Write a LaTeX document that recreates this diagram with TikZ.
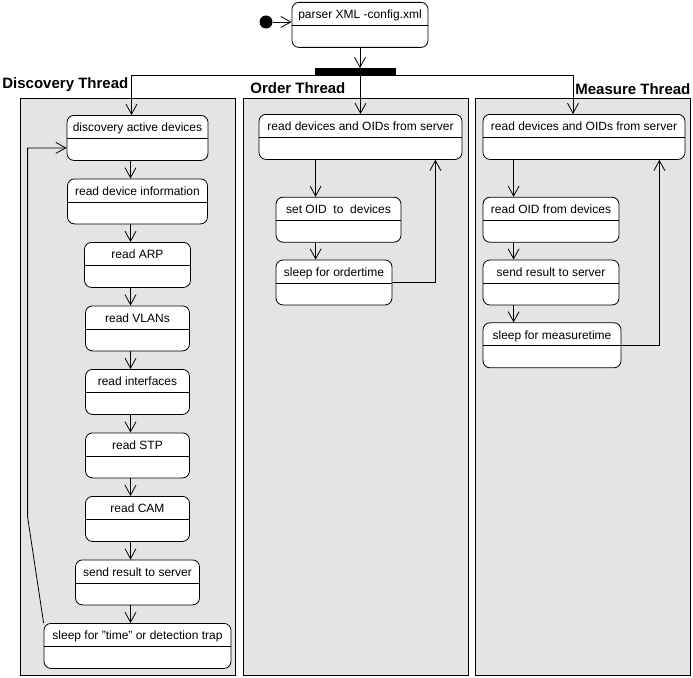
\documentclass[tikz,border=0pt]{standalone}
\usepackage{fontspec}
\setmainfont{Liberation Sans}
\usepackage{xcolor}
\definecolor{lanegrey}{HTML}{E4E4E4}
\usetikzlibrary{positioning, arrows.meta}

\begin{document}
\begin{tikzpicture}[x=1pt, y=1pt, line width=0.8pt, font=\fontsize{12}{14}\selectfont,
    node distance=17.7pt,
    activity/.style={draw, fill=white, rounded corners=7pt, minimum height=45pt, inner xsep=3pt, inner ysep=5.5pt,
        text height=11pt, text depth=23pt, align=center,
        path picture={\draw ([yshift=-23pt]path picture bounding box.north west) -- ([yshift=-23pt]path picture bounding box.north east);}},
    lane/.style={draw, fill=lanegrey, anchor=north west, minimum width=#1, minimum height=577pt, inner sep=0pt},
    lanelabel/.style={font=\fontsize{15}{18}\selectfont\bfseries, inner sep=0pt},
    flow/.style={-{Straight Barb[length=10pt, width=11pt]}}]
        \useasboundingbox (0,0) rectangle (693,-677);

        % Start and fork
        \node[circle, fill=black, minimum size=13pt, inner sep=0pt] (start) at (266,-22) {};
        \node[activity, minimum width=136pt, anchor=north] (parser) at (360,-2) {parser XML -config.xml};
        \node[fill=black, minimum width=81pt, minimum height=7pt, inner sep=0pt, anchor=north] (fork) at (355.5,-68) {};

        % Lanes
        \node[lane=215pt] (dlane) at (20,-98) {};
        \node[lanelabel, above right=6pt and -18pt of dlane.north west] {Discovery Thread};
        \node[lane=225pt] (olane) at (243,-98) {};
        \node[lanelabel, above right=4pt and 7pt of olane.north west] {Order Thread};
        \node[lane=215pt] (mlane) at (475,-98) {};
        \node[lanelabel, above left=3pt and 0pt of mlane.north east] {Measure Thread};

        % Discovery Thread
        \node[activity, minimum width=141pt, anchor=north] (disc) at (137.5,-115) {discovery active devices};
        \node[activity, minimum width=140pt, below=of disc] (info) {read device information};
        \node[activity, minimum width=106pt, below=of info] (arp) {read ARP};
        \node[activity, minimum width=104pt, below=of arp] (vlan) {read VLANs};
        \node[activity, minimum width=104pt, below=of vlan] (iface) {read interfaces};
        \node[activity, minimum width=104pt, below=of iface] (stp) {read STP};
        \node[activity, minimum width=104pt, below=of stp] (cam) {read CAM};
        \node[activity, minimum width=124pt, below=of cam] (dsend) {send result to server};
        \node[activity, minimum width=187pt, below=of dsend] (dsleep) {sleep for "time" or detection trap};

        % Order Thread
        \node[activity, minimum width=203pt, anchor=north] (oread) at (360.5,-114) {read devices and OIDs from server};
        \node[activity, minimum width=125pt, below right=37pt and 17pt of oread.south west] (oset) {set OID\ \ to\ \ devices};
        \node[activity, minimum width=116pt, below right=17pt and 0pt of oset.south west] (osleep) {sleep for ordertime};

        % Measure Thread
        \node[activity, minimum width=202pt, anchor=north] (mread) at (584,-114) {read devices and OIDs from server};
        \node[activity, minimum width=136pt, below right=37pt and 0pt of mread.south west] (moid) {read OID from devices};
        \node[activity, minimum width=136pt, below right=17pt and 0pt of moid.south west] (msend) {send result to server};
        \node[activity, minimum width=138pt, below right=17pt and 0pt of msend.south west] (msleep) {sleep for measuretime};

        % Connectors
        \draw[flow] (start) -- (start -| parser.west);
        \draw[flow] (parser.south) -- (parser.south |- fork.north);
        \draw[flow] (fork.south) -| ([xshift=-6pt]disc.north);
        \draw[flow] (fork.south) -| ([xshift=-11pt]mread.north);
        \draw[flow] (oread.north |- fork.south) -- (oread.north);

        \foreach \a/\b in {disc/info, info/arp, arp/vlan, vlan/iface, iface/stp, stp/cam, cam/dsend, dsend/dsleep}
            \draw[flow] ([xshift=-7pt]\a.south) -- ([xshift=-7pt]\b.north);
        \draw[flow] (dsleep.north west) -- ++(-16,106) |- ([yshift=-10pt]disc.west);

        \coordinate (oin) at ([xshift=40pt]oset.north west);
        \draw[flow] (oin |- oread.south) -- (oin);
        \draw[flow] ([xshift=40pt]oset.south west) -- ([xshift=40pt]osleep.north west);
        \draw[flow] (osleep.east) -| ([xshift=-27pt]oread.south east);

        \coordinate (min) at ([xshift=31pt]moid.north west);
        \draw[flow] (min |- mread.south) -- (min);
        \draw[flow] ([xshift=31pt]moid.south west) -- ([xshift=31pt]msend.north west);
        \draw[flow] ([xshift=31pt]msend.south west) -- ([xshift=31pt]msleep.north west);
        \draw[flow] (msleep.east) -| ([xshift=-26pt]mread.south east);
    \end{tikzpicture}
\end{document}
